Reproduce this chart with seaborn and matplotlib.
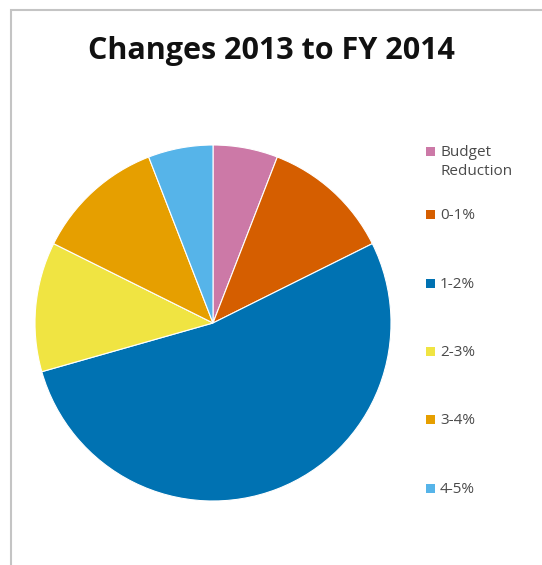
import matplotlib
matplotlib.use("Agg")
import matplotlib.pyplot as plt
from matplotlib.patches import Rectangle
import seaborn as sns

sns.set_theme(style="white")
plt.rcParams["font.family"] = ["Open Sans", "DejaVu Sans"]

dpi = 100
xsize = 542
ysize = 565

# counts per change bracket
categories = ["Budget\nReduction", "0-1%", "1-2%", "2-3%", "3-4%", "4-5%"]
counts = [1, 2, 9, 2, 2, 1]
colours = ["#CC79A7", "#D55E00", "#0072B2", "#F0E442", "#E69F00", "#56B4E9"]

# legend row positions (pixels from top), excel spaces them its own way
legend_rows = [151, 214, 283, 351, 419, 488]

fig = plt.figure(figsize=(xsize/dpi, ysize/dpi), dpi=dpi)
fig.patch.set_facecolor("white")

# grey frame like the spreadsheet chart area
fig.patches.append(Rectangle((11/xsize, -0.1), 2, 1 - 10/ysize + 0.1,
                             transform=fig.transFigure, fill=False,
                             edgecolor="#c4c4c4", linewidth=1.5))

ax = fig.add_axes([35/xsize, (ysize-501)/ysize, 356/xsize, 356/ysize])
wedges, _ = ax.pie(counts, colors=colours, startangle=90, counterclock=False,
                   radius=1, wedgeprops=dict(edgecolor="white", linewidth=0.8))
ax.set_xlim(-1, 1)
ax.set_ylim(-1, 1)
ax.set_aspect("equal")
ax.axis("off")

fig.text(271/xsize, 1 - 51/ysize, "Changes 2013 to FY 2014", ha="center", va="center",
         fontsize=22, fontweight="bold", color="#111111")

# legend drawn by hand so the rows sit where excel put them
for w, lab, y in zip(wedges, categories, legend_rows):
    yf = 1 - y/ysize
    fig.patches.append(Rectangle((426/xsize, yf - 4.5/ysize), 9/xsize, 9/ysize,
                                 transform=fig.transFigure,
                                 facecolor=w.get_facecolor(), edgecolor="none"))
    fig.text(440/xsize, yf + 6/ysize, lab, ha="left", va="top", fontsize=11,
             color="#4a4a4a", linespacing=1.35)

plt.savefig("out.png", dpi=dpi)
